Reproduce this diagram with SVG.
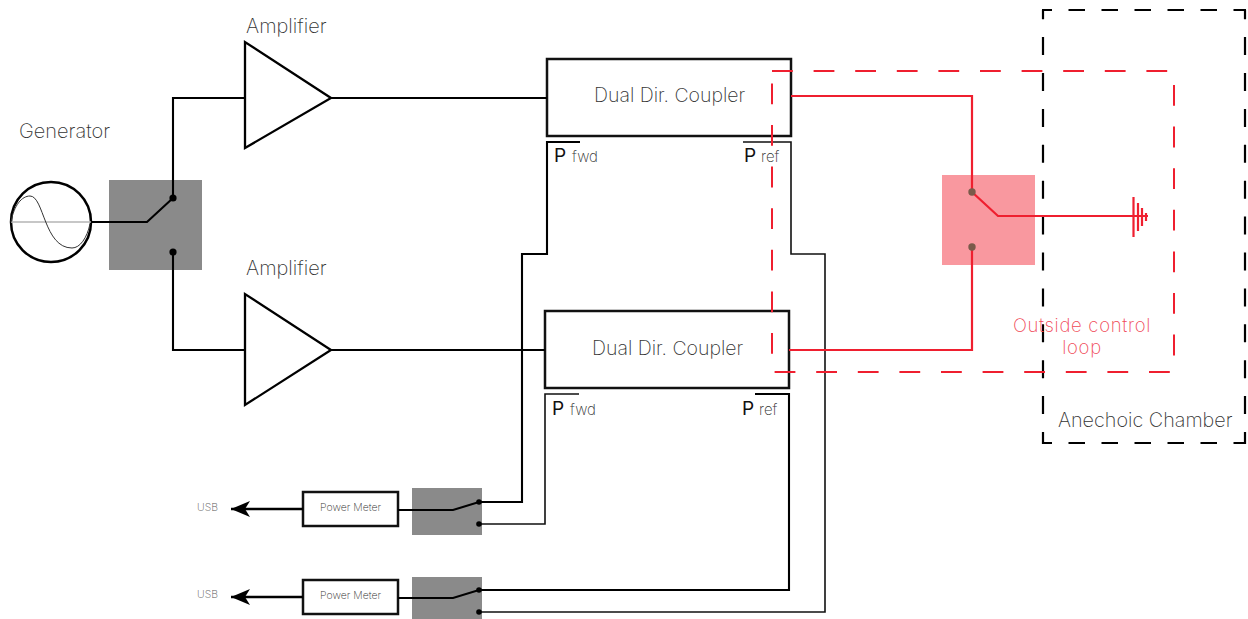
<svg xmlns="http://www.w3.org/2000/svg" width="1248" height="619" viewBox="0 0 1248 619">
<style>
text{font-family:"Inter","Lato","Liberation Sans",sans-serif;font-weight:200;fill:#333}
.l{font-size:20px}.c{font-size:19.500px}.pm{font-size:10.500px}.usb{font-size:10.500px;fill:#555}
.p{font-size:19px;font-weight:400;fill:#111}.s{font-size:15px}
.w{fill:none;stroke:#000;stroke-width:2.100}.w1{fill:none;stroke:#111;stroke-width:1.600}
.box{fill:#fff;stroke:#111;stroke-width:2.500}
.r{fill:none;stroke:#ef1f2f;stroke-width:2.200}
.g{fill:#8a8a8a}
.d{fill:#000}
.red{font-size:18.500px;letter-spacing:.7px;fill:#f04a58}
.h{fill:none;stroke:#000;stroke-width:2.200;stroke-dasharray:16.500 16.500;stroke-dashoffset:6.500}
.v{fill:none;stroke:#000;stroke-width:2.200;stroke-dasharray:18 17.900;stroke-dashoffset:8.800}
</style>
<defs><marker id="a" markerUnits="userSpaceOnUse" markerWidth="22" markerHeight="20" refX="20" refY="10" orient="auto"><path d="M20 10L1 2L6 10L1 18Z" fill="#000"/></marker></defs>
<g id="generator">
<text class="l" x="19" y="138">Generator</text>
<circle cx="51" cy="222" r="40" fill="#fff" stroke="#000" stroke-width="2.500"/>
<path d="M11 222H91" stroke="#b5b5b5" stroke-width="1.600" fill="none"/>
<path d="M11 222C14 205 22 196 30 196C44 196 44 248 72 248C80 248 87 238 90 224" stroke="#333" stroke-width="1" fill="none"/>
</g>
<g id="switch1"><rect class="g" x="109" y="180" width="93" height="90"/></g>
<g id="amp1"><text class="l" x="246" y="33">Amplifier</text><path d="M245 42V148L331 98Z" fill="#fff" stroke="#000" stroke-width="2.300"/></g>
<g id="amp2"><text class="l" x="246" y="275">Amplifier</text><path d="M245 294V405L331 350Z" fill="#fff" stroke="#000" stroke-width="2.300"/></g>
<g id="coupler1"><rect class="box" x="547" y="59" width="244" height="77"/><text class="c" x="594" y="102">Dual Dir. Coupler</text>
<text class="p" x="554" y="162">P</text><text class="s" x="572" y="162">fwd</text><text class="p" x="744" y="162">P</text><text class="s" x="761" y="162">ref</text></g>
<g id="coupler2"><rect class="box" x="545" y="311" width="244" height="77"/><text class="c" x="592" y="355">Dual Dir. Coupler</text>
<text class="p" x="552" y="415">P</text><text class="s" x="570" y="415">fwd</text><text class="p" x="742" y="415">P</text><text class="s" x="759" y="415">ref</text></g>
<g id="chamber"><path class="h" d="M1042 10H1246M1042 443H1246"/><path class="v" d="M1043 10V444M1245 10V444"/><text class="l" x="1058" y="427" style="font-size:19.800px">Anechoic Chamber</text></g>
<g id="switch-outside"><rect x="942" y="175" width="93" height="90" fill="#f9989f"/></g>
<g id="pm1"><rect class="box" x="303" y="492" width="95" height="34"/><text class="pm" x="320" y="511">Power Meter</text><text class="usb" x="197" y="511">USB</text></g>
<g id="pm2"><rect class="box" x="303" y="580" width="95" height="34"/><text class="pm" x="320" y="599">Power Meter</text><text class="usb" x="197" y="598">USB</text></g>
<g id="switch2"><rect class="g" x="412" y="488" width="70" height="47"/></g>
<g id="switch3"><rect class="g" x="412" y="577" width="70" height="42"/></g>
<g id="connectors">
<path class="w" d="M91 222H147L173 198M173 198V98H245M331 98H547M173 252V350H245M331 350H545"/>
<circle class="d" cx="173" cy="198" r="3.600"/><circle class="d" cx="173" cy="252" r="3.600"/>
<path class="w" d="M580 142H547V254H522V502H479L453 510H398"/>
<path class="w1" d="M743 142H791V254H825V612H479"/>
<path class="w1" d="M579 394H545V524H479"/>
<path class="w" d="M755 394H789V590H479L453 598H398"/>
<circle class="d" cx="479" cy="502" r="2.800"/><circle class="d" cx="479" cy="524" r="2.800"/><circle class="d" cx="479" cy="590" r="2.800"/><circle class="d" cx="479" cy="612" r="2.800"/>
<path class="w" d="M303 509H231" marker-end="url(#a)" style="stroke-width:2.500"/>
<path class="w" d="M303 597H231" marker-end="url(#a)" style="stroke-width:2.500"/>
<path class="r" d="M791 96H972V192L998 216H1134M789 350H972V246"/>
<circle cx="972" cy="192" r="3.700" fill="#7a5a4a"/><circle cx="972" cy="247" r="3.700" fill="#7a5a4a"/>
<path class="r" d="M1133.500 197V237M1138 203V231"/><path class="r" d="M1142 208V226M1146 213V221M1134 216H1148"/>
</g>
<g id="outside-loop"><rect x="772" y="71" width="402" height="301" fill="none" stroke="#ef1f2f" stroke-width="2" stroke-dasharray="20.800 20.800"/>
<text class="red" x="1082" y="332" text-anchor="middle">Outside control</text><text class="red" x="1082" y="354" text-anchor="middle">loop</text></g>
</svg>
